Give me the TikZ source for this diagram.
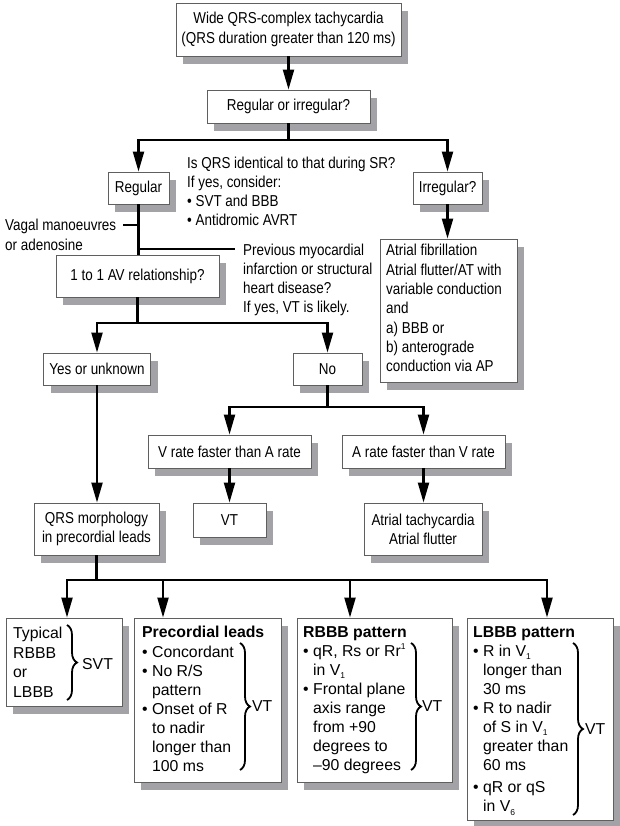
\documentclass[tikz,border=0pt]{standalone}
\usepackage{fontspec}
\setmainfont{Liberation Sans}
\newfontfamily\nf{Liberation Sans}[FakeStretch=0.85]
\usetikzlibrary{arrows.meta,shadows,decorations.pathreplacing}
\definecolor{shd}{RGB}{163,163,167}
\definecolor{bord}{RGB}{95,95,95}
\newcommand\nsz{\nf\fontsize{15.8}{19.2}\selectfont}
\newcommand\wsz{\fontsize{15.8}{19.05}\selectfont}
\newcommand\mysub[1]{\raisebox{-0.4ex}{\fontsize{8.5}{8.5}\selectfont #1}}
\newcommand\mysup[1]{\raisebox{0.8ex}{\fontsize{8.5}{8.5}\selectfont #1}}
\newcommand\ind{\hphantom{\textbullet\ }}
\begin{document}
\begin{tikzpicture}[x=1pt,y=-1pt,
  box/.style={draw=bord,line width=0.9pt,fill=white,inner sep=0pt,align=center,font=\nsz,
    drop shadow={shadow xshift=7pt,shadow yshift=-8pt,fill=shd,opacity=1}},
  conn/.style={line width=2.2pt},
  arr/.style={conn,-{Triangle[length=20pt,width=11pt]}},
  lbl/.style={inner sep=0pt,align=left,anchor=north west,font=\nsz},
  wlbl/.style={inner sep=0pt,align=left,anchor=north west,font=\wsz},
  brc/.style={decorate,decoration={brace,amplitude=10pt},line width=1.8pt}
]
\fill[white] (0,0) rectangle (619,826);
\useasboundingbox (0,0) rectangle (619,826);

% boxes
\node[box,minimum width=225pt,minimum height=53pt] (top) at (288.5,29.5) {Wide QRS-complex tachycardia\\(QRS duration greater than 120 ms)};
\node[box,minimum width=163pt,minimum height=33pt] (rr) at (288.5,106.5) {Regular or irregular?};
\node[box,minimum width=61pt,minimum height=32pt] (reg) at (138.5,188) {Regular};
\node[box,minimum width=69pt,minimum height=32pt] (irr) at (447.5,188) {Irregular?};
\node[box,minimum width=163pt,minimum height=42pt] (one) at (137.5,276) {1 to 1 AV relationship?};
\node[box,minimum width=137pt,minimum height=143pt] (af) at (448.5,310.5) {};
\node[lbl,font=\nf\fontsize{15.8}{19.3}\selectfont] (aft) at (386,244.3) {Atrial fibrillation\\Atrial flutter/AT with\\variable conduction\\and\\a) BBB or\\b) anterograde\\conduction via AP};
\node[box,minimum width=107pt,minimum height=32pt] (yes) at (97,369) {Yes or unknown};
\node[box,minimum width=69pt,minimum height=32pt] (no) at (327.5,369) {No};
\node[box,minimum width=163pt,minimum height=33pt] (vr) at (229.5,451.5) {V rate faster than A rate};
\node[box,minimum width=163pt,minimum height=33pt] (ar) at (423.5,451.5) {A rate faster than V rate};
\node[box,minimum width=73pt,minimum height=34pt] (vt) at (229.5,520) {VT};
\node[box,minimum width=118pt,minimum height=52pt] (at) at (423,529) {Atrial tachycardia\\Atrial flutter};
\node[box,minimum width=125pt,minimum height=52pt] (qrs) at (96.5,529) {QRS morphology\\in precordial leads};

\node[box,minimum width=116pt,minimum height=88pt] (ba) at (64,662) {};
\node[box,minimum width=147pt,minimum height=164pt] (bb) at (207.5,700) {};
\node[box,minimum width=155pt,minimum height=164pt] (bc) at (374.5,700) {};
\node[box,minimum width=146pt,minimum height=202pt] (bd) at (540,719) {};

% free labels
\node[lbl,font=\nf\fontsize{15.8}{18.7}\selectfont] (isq) at (187,157.3) {Is QRS identical to that during SR?\\If yes, consider:\\\textbullet\ SVT and BBB\\\textbullet\ Antidromic AVRT};
\node[lbl,font=\nf\fontsize{15.8}{19.8}\selectfont] (vag) at (5,219.3) {Vagal manoeuvres\\or adenosine};
\node[lbl,font=\nf\fontsize{15.8}{19}\selectfont] (prev) at (243,244.3) {Previous myocardial\\infarction or structural\\heart disease?\\If yes, VT is likely.};

% bottom box contents
\node[wlbl,font=\fontsize{15.8}{19.5}\selectfont] (bat) at (13,627.3) {Typical\\RBBB\\or\\LBBB};
\draw[brc] (67,625) -- (67,700);
\node[wlbl,anchor=west] (svt) at (82,664) {SVT};

\node[wlbl] (bbt) at (142,626.3) {\textbf{Precordial leads}\\\textbullet\ Concordant\\\textbullet\ No R/S\\\ind pattern\\\textbullet\ Onset of R\\\ind to nadir\\\ind longer than\\\ind 100 ms};
\draw[brc] (240,643) -- (240,770);
\node[wlbl,anchor=west] (bbv) at (252,706) {VT};

\node[wlbl] (bct) at (303,626.3) {\textbf{RBBB pattern}\\\textbullet\ qR, Rs or Rr\mysup{1}\\\ind in V\mysub{1}\\\textbullet\ Frontal plane\\\ind axis range\\\ind from +90\\\ind degrees to\\\ind –90 degrees};
\draw[brc] (411,643) -- (411,770);
\node[wlbl,anchor=west] (bcv) at (422,706) {VT};

\node[wlbl] (bdt) at (473,626.3) {\textbf{LBBB pattern}\\\textbullet\ R in V\mysub{1}\\\ind longer than\\\ind 30 ms\\\textbullet\ R to nadir\\\ind of S in V\mysub{1}\\\ind greater than\\\ind 60 ms\\[3pt]\textbullet\ qR or qS\\\ind in V\mysub{6}};
\draw[brc] (573,643) -- (573,815);
\node[wlbl,anchor=west] (bdv) at (585,729) {VT};

% connectors
\coordinate (j1) at (288.5,140);
\draw[arr] (top.south) -- (rr.north);
\draw[conn] (rr.south) -- (j1);
\draw[arr] (j1) -| (reg.north);
\draw[arr] (j1) -| (irr.north);
\draw[arr] (irr.south) -- (irr.south |- af.north);
\draw[conn] (reg.south) -- (reg.south |- one.north);
\coordinate (vg) at (123,225);
\draw[conn] (vg) -- (vg -| reg.south);
\coordinate (pv) at (235,249);
\draw[conn] (pv -| reg.south) -- (pv);

\coordinate (j2) at (137.5,323);
\draw[conn] (one.south) -- (j2);
\draw[arr] (j2) -| (yes.north);
\draw[arr] (j2) -| (no.north);

\coordinate (j3) at (327.5,407);
\draw[conn] (no.south) -- (j3);
\draw[arr] (j3) -| (vr.north);
\draw[arr] (j3) -| (ar.north);
\draw[arr] (vr.south) -- (vt.north);
\draw[arr] (ar.south) -- (ar.south |- at.north);
\draw[arr] (yes.south) -- (yes.south |- qrs.north);

\coordinate (j4) at (96.5,580);
\coordinate (ka) at (67,580);
\coordinate (kb) at (163,580);
\coordinate (kc) at (350,580);
\coordinate (kd) at (547,580);
\draw[conn] (qrs.south) -- (j4);
\draw[arr] (j4) -| (ka |- ba.north);
\draw[arr] (j4) -| (kd |- bd.north);
\draw[arr] (kb) -- (kb |- bb.north);
\draw[arr] (kc) -- (kc |- bc.north);
\end{tikzpicture}
\end{document}
